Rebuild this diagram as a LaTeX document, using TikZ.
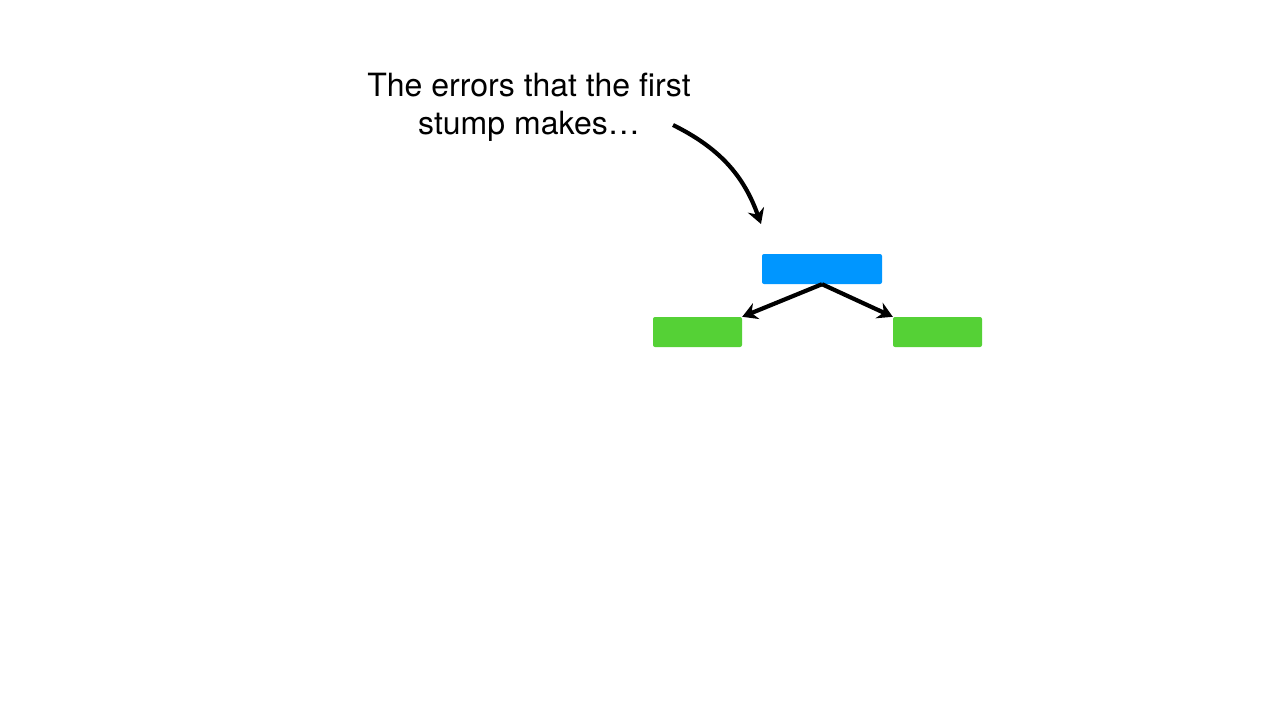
\documentclass[tikz,border=0pt]{standalone}
\usepackage{fontspec}
\setmainfont{TeX Gyre Heros}
\usetikzlibrary{arrows.meta, positioning}
\definecolor{stumpblue}{HTML}{0096FF}
\definecolor{leafgreen}{HTML}{55D136}
\begin{document}
\begin{tikzpicture}[
    x=1pt, y=-1pt,
    stumpbox/.style={rounded corners=2pt, inner sep=0pt, minimum height=30pt},
    root/.style={stumpbox, fill=stumpblue, minimum width=120pt},
    leaf/.style={stumpbox, fill=leafgreen, minimum width=89pt},
    arr/.style={-{Stealth[length=15pt, width=17pt, inset=5pt]}, line width=4.2pt, black}]
  \useasboundingbox[fill=white] (0,0) rectangle (1280,720);
  \node[align=center, font=\fontsize{32}{38}\selectfont] (note) at (529,107)
    {The errors that the first\\stump makes…};
  \coordinate (tail) at (673,125);
  \coordinate (tip) at (761,224);
  \node[root] (stump) at (822,269) {};
  \node[leaf] (leftleaf) at (697.5,332) {};
  \node[leaf] (rightleaf) at (937.5,332) {};
  \draw[arr] (tail) to[bend left=22] (tip);
  \draw[arr] (stump.south) -- (leftleaf.north east);
  \draw[arr] (stump.south) -- (rightleaf.north west);
\end{tikzpicture}
\end{document}
